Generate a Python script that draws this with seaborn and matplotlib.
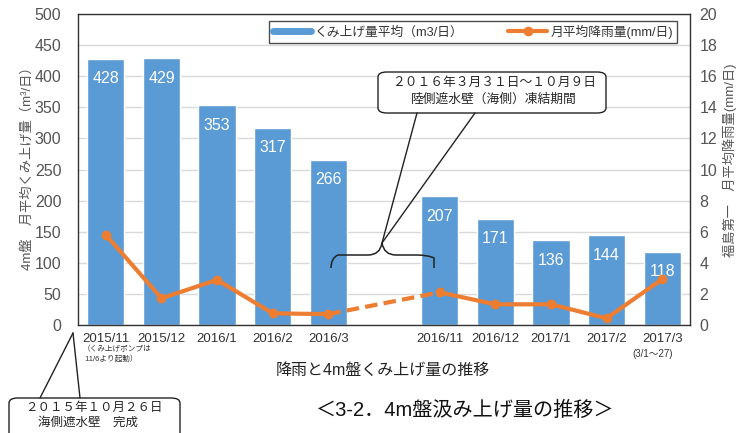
import numpy as np
import matplotlib
matplotlib.use("Agg")
import matplotlib.pyplot as plt
import seaborn as sns
from matplotlib.lines import Line2D
from matplotlib.patches import FancyBboxPatch, PathPatch
from matplotlib.path import Path

categories = ['2015/11', '2015/12', '2016/1', '2016/2', '2016/3', '',
              '2016/11', '2016/12', '2017/1', '2017/2', '2017/3']
pump = [428, 429, 353, 317, 266, np.nan, 207, 171, 136, 144, 118]
rain = [5.8, 1.72, 2.9, 0.75, 0.7, np.nan, 2.1, 1.33, 1.33, 0.43, 2.95]

BLUE = '#5B9BD5'
ORANGE = '#ED7D31'

sns.set_style('white')
plt.rcParams['font.family'] = ['Liberation Sans', 'Noto Sans CJK JP', 'DejaVu Sans']

W, H = 738, 433
fig = plt.figure(figsize=(W / 100, H / 100), dpi=100)
ax = fig.add_axes([78 / W, 1 - 325 / H, (690 - 78) / W, (325 - 14) / H])

sns.barplot(x=categories, y=pump, order=categories, color=BLUE, width=0.67,
            saturation=1, ax=ax, zorder=2)
ax.set_ylim(0, 500)
ax.set_yticks(np.arange(0, 501, 50))
ax.yaxis.grid(True, color='#d9d9d9', lw=1, zorder=0)
ax.set_axisbelow(True)
ax.tick_params(axis='y', length=0, labelsize=11.5, pad=12, colors='#555555')
ax.tick_params(axis='x', length=0, labelsize=9.5, pad=6, colors='#333333')
ax.set_xticks(range(len(categories)))
ax.set_xticklabels(categories)
ax.set_xticks(np.arange(-0.5, len(categories), 1), minor=True)
ax.tick_params(axis='x', which='minor', length=4, width=1, color='#666666', direction='out')
ax.set_xlim(-0.5, len(categories) - 0.5)
ax.set_xlabel('')
for s in ax.spines.values():
    s.set_color('#333333')
    s.set_linewidth(1)

# bar value labels
for i, v in enumerate(pump):
    if not np.isnan(v):
        ax.text(i, v - 20, f'{int(v)}', ha='center', va='top', color='white', fontsize=11.5)

ax2 = ax.twinx()
x = np.arange(len(categories))
ax2.plot(x, rain, color=ORANGE, lw=3, marker='o', ms=6, zorder=3)
ax2.plot([4, 6], [rain[4], rain[6]], color=ORANGE, lw=3, ls=(0, (3, 1.5)), zorder=3)
ax2.set_ylim(0, 20)
ax2.set_yticks(np.arange(0, 21, 2))
ax2.tick_params(axis='y', length=0, labelsize=11.5, pad=7, colors='#555555')
ax2.grid(False)
for s in ax2.spines.values():
    s.set_visible(False)

# axis titles
fig.text(27 / W, 1 - 165 / H, '4m盤　月平均くみ上げ量（m³/日）', rotation=90,
         ha='center', va='center', fontsize=9.5, color='#555555')
fig.text(730 / W, 1 - 160 / H, '福島第一　月平均降雨量(mm/日)', rotation=90,
         ha='center', va='center', fontsize=9.5, color='#555555')

# legend
handles = [Line2D([], [], color=BLUE, lw=5),
           Line2D([], [], color=ORANGE, lw=3, marker='o', ms=6)]
leg = fig.legend(handles, ['くみ上げ量平均（m3/日）', '月平均降雨量(mm/日)'],
                 loc='upper right', bbox_to_anchor=(677 / W, 1 - 21 / H), ncol=2,
                 fontsize=9.2, frameon=True, fancybox=False, handlelength=3.0,
                 columnspacing=3.5, borderpad=0.3, handletextpad=0.3,
                 borderaxespad=0)
leg.get_frame().set_edgecolor('#222222')
leg.get_frame().set_linewidth(1)
for t in leg.get_texts():
    t.set_color('#333333')

# notes under axis
fig.text(83 / W, 1 - 354 / H, '（くみ上げポンプは\n 11/6より起動）', fontsize=5.5,
         ha='left', va='center', color='#333333', linespacing=1.3)
fig.text(653 / W, 1 - 354 / H, '(3/1～27)', fontsize=7, ha='center', va='center',
         color='#333333')
fig.text(383 / W, 1 - 370 / H, '降雨と4m盤くみ上げ量の推移', fontsize=11.5,
         ha='center', va='center', color='#222222')
fig.text(465 / W, 1 - 410 / H, '＜3-2．4m盤汲み上げ量の推移＞', fontsize=14.5,
         ha='center', va='center', color='#111111')


def P(px, py):
    return (px / W, 1 - py / H)


def seg(a, b):
    fig.add_artist(Line2D([P(*a)[0], P(*b)[0]], [P(*a)[1], P(*b)[1]],
                          color='#222222', lw=1, transform=fig.transFigure, zorder=5))


# top callout
box = FancyBboxPatch(P(378, 113), (606 - 378) / W, (113 - 72) / H,
                     boxstyle='round,pad=0,rounding_size=0.012',
                     transform=fig.transFigure, fc='white', ec='#222222', lw=1, zorder=5)
fig.add_artist(box)
fig.text(494 / W, 1 - 83 / H, '２０１６年３月３１日～１０月９日', fontsize=9.2,
         ha='center', va='center', zorder=6)
fig.text(494 / W, 1 - 100 / H, '陸側遮水壁（海側）凍結期間', fontsize=9.2,
         ha='center', va='center', zorder=6)
seg((417, 113), (382, 243))
seg((475, 113), (382, 243))
# brace
verts = [P(331, 268), P(331, 258), P(338, 255), P(350, 255),
         P(368, 255), P(380, 255), P(382, 243),
         P(384, 255), P(396, 255), P(416, 255),
         P(428, 255), P(434, 258), P(434, 268)]
codes = [Path.MOVETO, Path.CURVE3, Path.CURVE3, Path.LINETO,
         Path.LINETO, Path.CURVE3, Path.CURVE3,
         Path.CURVE3, Path.CURVE3, Path.LINETO,
         Path.CURVE3, Path.CURVE3, Path.LINETO]
fig.add_artist(PathPatch(Path(verts, codes), fc='none', ec='#222222', lw=1.1,
                         transform=fig.transFigure, zorder=5))

# bottom callout
box2 = FancyBboxPatch(P(9, 445), (180 - 9) / W, (445 - 398) / H,
                      boxstyle='round,pad=0,rounding_size=0.012',
                      transform=fig.transFigure, fc='white', ec='#222222', lw=1, zorder=5,
                      clip_on=False)
fig.add_artist(box2)
fig.text(94 / W, 1 - 408 / H, '２０１５年１０月２６日', fontsize=9,
         ha='center', va='center', zorder=6)
fig.text(88 / W, 1 - 423 / H, '海側遮水壁　完成', fontsize=9,
         ha='center', va='center', zorder=6)
seg((73, 333), (40, 398))
seg((73, 333), (80, 398))

fig.savefig('out.png', dpi=100, facecolor='white')
